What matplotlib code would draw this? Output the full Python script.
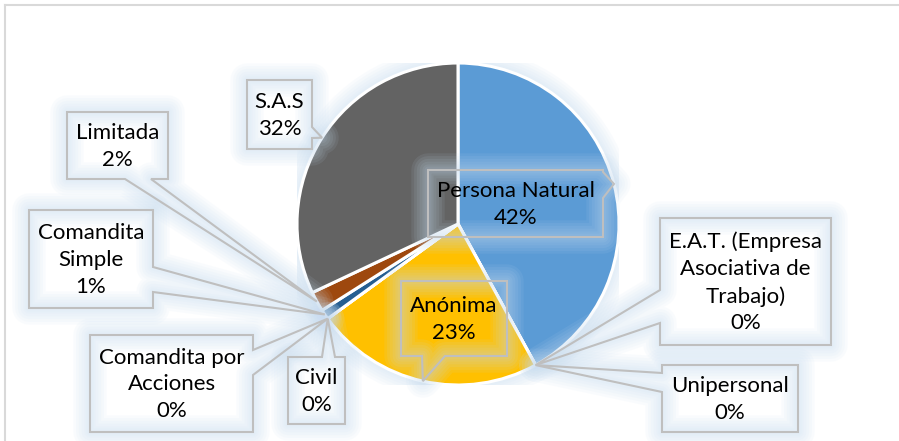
import numpy as np
import matplotlib
matplotlib.use("Agg")
import matplotlib.pyplot as plt
import matplotlib.patheffects as pe
from matplotlib.patches import Polygon, Circle

plt.rcParams["font.family"] = ["Lato", "DejaVu Sans"]

# data
categories = [
    "Persona Natural",
    "E.A.T. (Empresa\nAsociativa de\nTrabajo)",
    "Unipersonal",
    "Anónima",
    "Civil",
    "Comandita por\nAcciones",
    "Comandita\nSimple",
    "Limitada",
    "S.A.S",
]
shares = [42, 0, 0, 23, 0, 0, 1, 2, 32]
pct_labels = ["42%", "0%", "0%", "23%", "0%", "0%", "1%", "2%", "32%"]
colors = ["#5B9BD5", "#ED7D31", "#A5A5A5", "#FFC000", "#4472C4",
          "#70AD47", "#255E91", "#9E480E", "#636363"]

# callout boxes in pixel coords (x0, y0, x1, y1), pointer side, pointer anchors
boxes = [
    ((428, 170, 603, 237), "right", (172, 198)),
    ((660, 218, 831, 345), "left", (290, 323)),
    ((662, 365, 798, 432), "left", (373, 392)),
    ((401, 281, 507, 356), "bottom", (422, 445)),
    ((288, 357, 345, 424), "top", (322, 335)),
    ((90, 335, 253, 432), "right", (350, 375)),
    ((29, 210, 153, 308), "right", (267, 292)),
    ((67, 112, 168, 179), "bottom", (125, 151)),
    ((247, 80, 312, 149), "right", (127, 138)),
]

W, H = 899, 441
cx, cy, R = 458, 224, 161

fig = plt.figure(figsize=(W / 100, H / 100), dpi=100)
fig.patch.set_facecolor("white")

# soft glow used for the callouts and the pie rim
glow = [pe.Stroke(linewidth=lw, foreground="#C6DCF1", alpha=0.09, joinstyle="round")
        for lw in (24, 20, 16, 12, 8, 5)]

# pie axes placed so the pie sits where the reference has it
ax = fig.add_axes([(cx - R) / W, (H - cy - R) / H, 2 * R / W, 2 * R / H])
halo = Circle((0, 0), 1.0, facecolor="none", edgecolor="none", lw=0, zorder=0)
halo.set_path_effects(glow)
ax.add_patch(halo)
wedges, _ = ax.pie(shares, colors=colors, startangle=90, counterclock=False,
                   radius=1.0, wedgeprops=dict(edgecolor="white", linewidth=2.2))
ax.set_xlim(-1, 1)
ax.set_ylim(-1, 1)
ax.axis("off")

# overlay in pixel coords, y down
ov = fig.add_axes([0, 0, 1, 1], facecolor="none")
ov.set_xlim(0, W)
ov.set_ylim(H, 0)
ov.axis("off")

# outer chart frame
ov.plot([5, W], [5, 5], color="#D9D9D9", lw=1.5)
ov.plot([5, 5], [5, H], color="#D9D9D9", lw=1.5)


def callout(x0, y0, x1, y1, side, a, b, tip):
    if side == "bottom":
        return [(x0, y0), (x1, y0), (x1, y1), (b, y1), tip, (a, y1), (x0, y1)]
    if side == "top":
        return [(x0, y0), (a, y0), tip, (b, y0), (x1, y0), (x1, y1), (x0, y1)]
    if side == "right":
        return [(x0, y0), (x1, y0), (x1, a), tip, (x1, b), (x1, y1), (x0, y1)]
    return [(x0, y0), (x1, y0), (x1, y1), (x0, y1), (x0, b), tip, (x0, a)]


to_ov = ov.transData.inverted()
for w, name, pct, (box, side, (a, b)) in zip(wedges, categories, pct_labels, boxes):
    mid = np.deg2rad((w.theta1 + w.theta2) / 2)
    disp = ax.transData.transform((np.cos(mid), np.sin(mid)))
    tip = tuple(to_ov.transform(disp))
    x0, y0, x1, y1 = box
    pts = callout(x0, y0, x1, y1, side, a, b, tip)
    shade = Polygon(pts, closed=True, facecolor="none", edgecolor="none", zorder=2)
    shade.set_path_effects(glow)
    ov.add_patch(shade)
    ov.add_patch(Polygon(pts, closed=True, facecolor="none", edgecolor="#BFBFBF",
                         lw=1.5, joinstyle="miter", zorder=3))
    ov.text((x0 + x1) / 2, (y0 + y1) / 2 + 1, name + "\n" + pct, ha="center",
            va="center", fontsize=16, linespacing=1.42, color="black", zorder=4)

fig.savefig("out.png", dpi=100)
